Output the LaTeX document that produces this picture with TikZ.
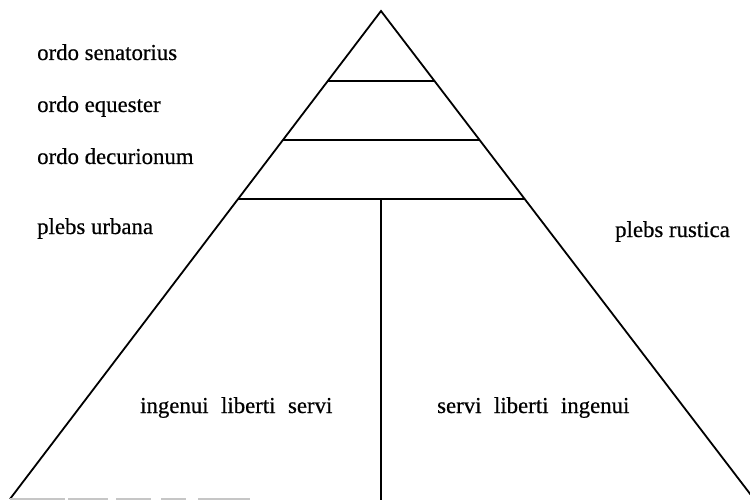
\documentclass[tikz,border=0pt]{standalone}
\usepackage{fontspec}
\setmainfont{Liberation Serif}
\newfontfamily\scanfont[FakeBold=0.5]{Liberation Serif}
\usetikzlibrary{calc}
\begin{document}
\begin{tikzpicture}[x=1pt,y=-1pt,
  edge/.style={line width=1.8pt, line join=miter},
  lab/.style={anchor=base west, inner sep=0pt, font=\scanfont\fontsize{22.8}{26}\selectfont}]
\useasboundingbox (0,0) rectangle (750,500);
% triangle corners
\coordinate (A) at (381,11);
\coordinate (L) at (10,499);
\coordinate (R) at (754,499);
\draw[edge] (L) -- (A) -- (R);
% horizontal dividers
\coordinate (l1) at ($(A)!0.1434!(L)$);
\coordinate (r1) at ($(A)!0.1434!(R)$);
\coordinate (l2) at ($(A)!0.2643!(L)$);
\coordinate (r2) at ($(A)!0.2643!(R)$);
\coordinate (l3) at ($(A)!0.3852!(L)$);
\coordinate (r3) at ($(A)!0.3852!(R)$);
\draw[edge] (l1) -- (r1);
\draw[edge] (l2) -- (r2);
\draw[edge] (l3) -- (r3);
% vertical divider
\coordinate (vt) at (381,199);
\coordinate (vb) at (381,500);
\draw[edge] (vt) -- (vb);
% faint base fragment
\coordinate (bE) at (250,499);
\draw[gray!45, line width=1.2pt, dash pattern=on 55pt off 3pt on 40pt off 8pt on 35pt off 10pt on 25pt off 12pt] (L) -- (bE);
% labels
\node[lab] (sen) at (37,60) {ordo senatorius};
\node[lab] (equ) at (37,112) {ordo equester};
\node[lab] (dec) at (37,164) {ordo decurionum};
\node[lab] (urb) at (37,234) {plebs urbana};
\node[lab] (rus) at (615,237) {plebs rustica};
\node[lab] (lft) at (140,413) {ingenui\hspace{12.5pt}liberti\hspace{12.5pt}servi};
\node[lab] (rgt) at (437,413) {servi\hspace{12.5pt}liberti\hspace{12.5pt}ingenui};
\end{tikzpicture}
\end{document}
